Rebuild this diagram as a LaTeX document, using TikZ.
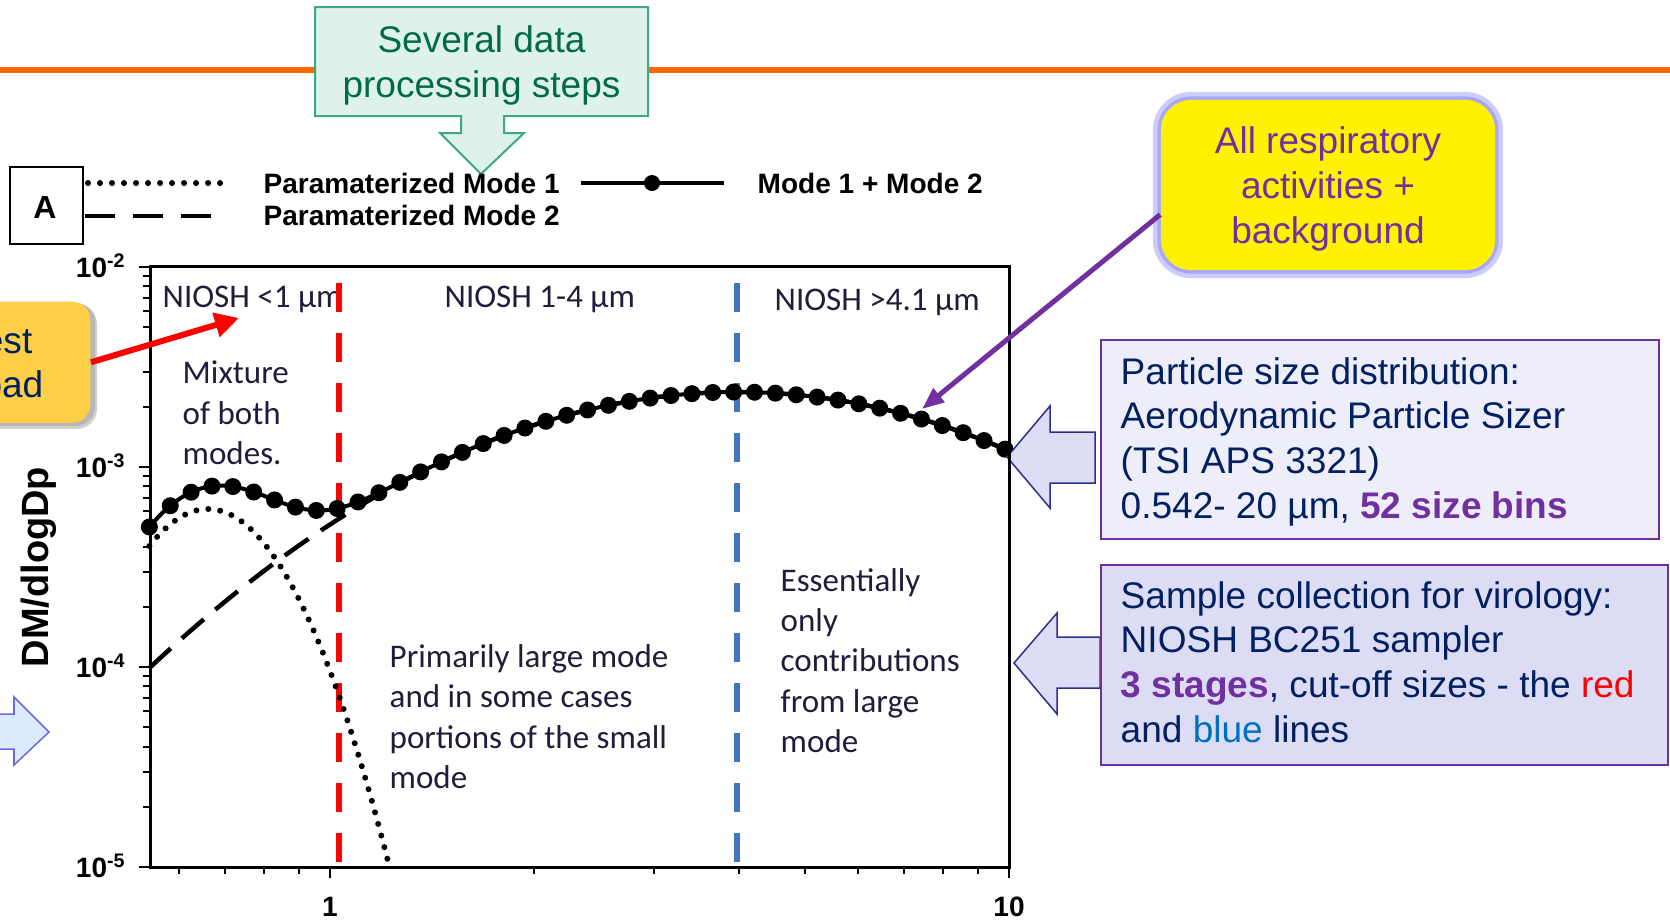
\documentclass[tikz,border=0pt]{standalone}
\usepackage{fontspec}
\setmainfont{Liberation Sans}
\newfontfamily\carl{Carlito}
\usetikzlibrary{arrows.meta}
\definecolor{orangeline}{HTML}{FF6600}
\definecolor{greenfill}{HTML}{DEF2E9}
\definecolor{greendraw}{HTML}{3DA882}
\definecolor{greentext}{HTML}{006B45}
\definecolor{navy}{HTML}{002060}
\definecolor{purp}{HTML}{7030A0}
\definecolor{lavA}{HTML}{EEEEFA}
\definecolor{lavB}{HTML}{DCDCF4}
\definecolor{arrfill}{HTML}{DDDDF6}
\definecolor{arrdraw}{HTML}{2E2E8E}
\definecolor{lblue}{HTML}{DDE9FC}
\definecolor{lbluedraw}{HTML}{6A6AE0}
\definecolor{plotblue}{HTML}{4472C4}
\definecolor{txtblue}{HTML}{0070C0}
\definecolor{charttxt}{HTML}{1E1E3C}
\definecolor{gold}{HTML}{FFCF48}
\definecolor{glowA}{HTML}{CCCCFF}
\definecolor{glowB}{HTML}{A8A8F6}
\begin{document}
\begin{tikzpicture}[x=0.01cm,y=-0.01cm,
  declare function={
    X(\u)=330+679*\u;
    Y(\yy)=467-200*(\yy+3);
    mA(\u)=-3.21-25*(\u+0.18)*(\u+0.18);
    mB(\u)=-2.625-1.84*(\u-0.6)*(\u-0.6);
    mS(\u)=mB(\u)+log10(1+10^(max(mA(\u)-mB(\u),-5)));
  },
  boxfont/.style={font=\fontsize{10.53}{12.66}\selectfont},
  ctext/.style={font=\carl\fontsize{9.39}{11.38}\selectfont, text=charttxt, inner sep=0, align=left, anchor=base west},
  leg/.style={font=\bfseries\fontsize{7.97}{9.5}\selectfont, inner sep=0, anchor=base west},
  ticklab/.style={font=\bfseries\fontsize{7.97}{9.5}\selectfont, inner sep=0},
  dotline/.style={line width=0.06cm, line cap=round, dash pattern=on 0pt off 0.12cm},
  dashline/.style={line width=0.045cm, dash pattern=on 0.29cm off 0.15cm},
  legdash/.style={line width=0.045cm, dash pattern=on 0.30cm off 0.18cm},
  cutline/.style={line width=0.06cm, dash pattern=on 0.29cm off 0.21cm},
  blkarrow/.style={draw=arrdraw, fill=arrfill, line width=0.015cm, line join=miter},
  infobox/.style={draw=purp, line width=0.02cm, anchor=north west, inner sep=0},
  infotext/.style={boxfont, text=navy, inner sep=0, align=left, anchor=base west},
]
\useasboundingbox (0,0) rectangle (1670,920);

% orange rule
\draw[orangeline, line width=0.06cm] (0,70) -- (1670,70);

% green callout
\draw[greendraw, fill=greenfill, line width=0.02cm, line join=miter]
  (315,7) -- (648,7) -- (648,116) -- (504,116) -- (504,133) -- (524,133)
  -- (481,174) -- (440,133) -- (461,133) -- (461,116) -- (315,116) -- cycle;
\node[boxfont, text=greentext, align=center, anchor=base, inner sep=0] (steps) at (481.5,97.5) {Several data\\processing steps};

% legend
\node[draw, line width=0.02cm, minimum width=0.73cm, minimum height=0.77cm, anchor=north west, inner sep=0] (Abox) at (9,166) {};
\node[font=\bfseries\fontsize{9.1}{10}\selectfont, anchor=base, inner sep=0] (Alab) at (45,218) {A};
\draw[dotline] (88,183) -- (224,183);
\draw[legdash] (85,216) -- (218,216);
\node[leg] (leg1) at (263,193) {Paramaterized Mode 1};
\node[leg] (leg2) at (263,225) {Paramaterized Mode 2};
\draw[line width=0.04cm] (581,183) -- (724,183);
\fill (652,183) circle (0.08cm);
\node[leg] (leg3) at (757,193) {Mode 1 + Mode 2};

% chart texts (anchor = baseline of the last line)
\node[ctext] (n1) at (162,307) {NIOSH <1 µm};
\node[ctext] (n2) at (444,307) {NIOSH 1-4 µm};
\node[ctext] (n3) at (774,310) {NIOSH >4.1 µm};
\node[ctext] (mix) at (182,464) {Mixture\\of both\\modes.};
\node[ctext] (prim) at (389,788) {Primarily large mode\\and in some cases\\portions of the small\\mode};
\node[ctext] (ess) at (780,752) {Essentially\\only\\contributions\\from large\\mode};

% cut-off lines
\draw[cutline, red] (339,283) -- (339,867);
\draw[cutline, plotblue] (737,283) -- (737,867);

% curves
\draw[dotline] plot[domain=-0.266:0.0875, samples=70] ({X(\x)},{Y(mA(\x))});
\draw[dashline] plot[domain=-0.266:1, samples=70] ({X(\x)},{Y(mB(\x))});
\draw[line width=0.04cm] plot[smooth, domain=-0.266:1, samples=70] ({X(\x)},{Y(mS(\x))});
\foreach \k in {0,...,41} {
  \pgfmathsetmacro\uu{-0.266+0.03073*\k}
  \fill ({X(\uu)},{Y(mS(\uu))}) circle (0.085cm);
}

% block arrows (drawn under the frame)
\draw[blkarrow] (1095,432) -- (1050,432) -- (1050,406) -- (1007,457) -- (1050,508) -- (1050,483) -- (1095,483) -- cycle;
\draw[blkarrow] (1100,637) -- (1057,637) -- (1057,613) -- (1014,663) -- (1057,714) -- (1057,688) -- (1100,688) -- cycle;
\draw[draw=lbluedraw, fill=lblue, line width=0.015cm, line join=miter] (-10,714) -- (14,714) -- (14,697) -- (49,732) -- (14,765) -- (14,749) -- (-10,749) -- cycle;

% frame and ticks
\draw[line width=0.03cm] (150,266) rectangle (1009,867);
\foreach \d in {-5,-4,-3} {
  \foreach \m in {2,...,9} {
    \draw[line width=0.02cm] ({150},{Y(\d+log10(\m))}) -- ++(-7,0);
  }
}
\foreach \d in {-5,-4,-3,-2} {
  \draw[line width=0.02cm] ({150},{Y(\d)}) -- ++(-11,0);
}
\foreach \m in {0.6,0.7,0.8,0.9,2,3,4,5,6,7,8,9} {
  \draw[line width=0.02cm] ({X(log10(\m))},867) -- ++(0,7);
}
\draw[line width=0.02cm] (330,867) -- ++(0,11);
\draw[line width=0.02cm] (1009,867) -- ++(0,11);

% axis labels
\node[ticklab, anchor=base east] (ym2) at (127,277) {10\textsuperscript{-2}};
\node[ticklab, anchor=base east] (ym3) at (127,477) {10\textsuperscript{-3}};
\node[ticklab, anchor=base east] (ym4) at (127,677) {10\textsuperscript{-4}};
\node[ticklab, anchor=base east] (ym5) at (127,877) {10\textsuperscript{-5}};
\node[ticklab, anchor=base] (x1) at (330,916) {1};
\node[ticklab, anchor=base] (x10) at (1009,916) {10};
\node[font=\bfseries\fontsize{10.8}{12}\selectfont, rotate=90, anchor=base, inner sep=0] (ylab) at (48,567) {DM/dlogDp};

% orange (cut) box
\fill[black!18, rounded corners=0.2cm] (-40,304) rectangle (97,429);
\fill[black!28, rounded corners=0.19cm] (-40,303) rectangle (95,426);
\node[fill=gold, rounded corners=0.18cm, minimum width=1.3cm, minimum height=1.21cm, anchor=north east, inner sep=0] (ob) at (91,301) {};
\node[boxfont, text=navy, anchor=base east, inner sep=0] (ob1) at (33,353) {est};
\node[boxfont, text=navy, anchor=base east, inner sep=0] (ob2) at (44,397) {oad};
\coordinate (redtip) at (239,318);
\draw[red, line width=0.06cm, -{Triangle[length=0.24cm,width=0.24cm]}] (ob.east) -- (redtip);

% yellow box
\node[fill=yellow, rounded corners=0.3cm, minimum width=3.34cm, minimum height=1.70cm, inner sep=0,
  preaction={draw=glowA, line width=0.16cm, rounded corners=0.3cm},
  preaction={draw=glowB, line width=0.07cm, rounded corners=0.3cm}] (yb) at (1328,185) {};
\node[boxfont, text=purp, align=center, anchor=base, inner sep=0] (ybt) at (1328,243) {All respiratory\\activities +\\background};
\coordinate (purptip) at (922,409);
\draw[purp, line width=0.05cm, -{Triangle[length=0.22cm,width=0.17cm]}] (yb.190) -- (purptip);

% info boxes
\node[infobox, fill=lavA, minimum width=5.58cm, minimum height=1.99cm] (box1) at (1100,339) {};
\node[infotext] (box1t) at (1120,518) {Particle size distribution:\\Aerodynamic Particle Sizer\\(TSI APS 3321)\\0.542- 20 µm, \textcolor{purp}{\textbf{52 size bins}}};
\node[infobox, fill=lavB, minimum width=5.67cm, minimum height=2.00cm] (box2) at (1100,564) {};
\node[infotext] (box2t) at (1120,742) {Sample collection for virology:\\NIOSH BC251 sampler\\\textcolor{purp}{\textbf{3 stages}}, cut-off sizes - the \textcolor{red}{red}\\and \textcolor{txtblue}{blue} lines};
\end{tikzpicture}
\end{document}
